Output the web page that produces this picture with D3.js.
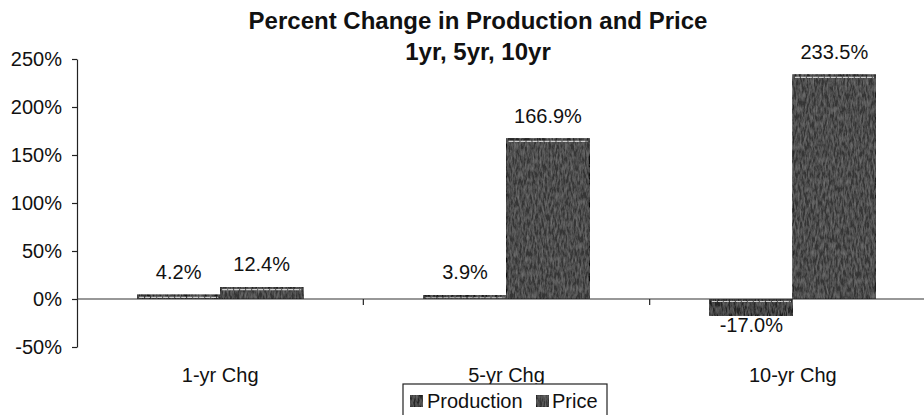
<!DOCTYPE html>
<html>
<head>
<meta charset="utf-8">
<script src="https://cdn.jsdelivr.net/npm/d3@7"></script>
<style>
  html, body { margin: 0; padding: 0; background: #fff; }
  svg { display: block; font-family: Arial, "Liberation Sans", sans-serif; }
</style>
</head>
<body>
<svg id="chart" width="924" height="415"></svg>
<script>
// Chart data
const categories = ["1-yr Chg", "5-yr Chg", "10-yr Chg"];
const seriesNames = ["Production", "Price"];
const production = [4.2, 3.9, -17.0];
const price = [12.4, 166.9, 233.5];
const yTicks = [-50, 0, 50, 100, 150, 200, 250];
const titleLines = ["Percent Change in Production and Price", "1yr, 5yr, 10yr"];

const seriesValues = { Production: production, Price: price };
const seriesFill = { Production: "#252525", Price: "#363636" };
const FONT = "Arial, 'Liberation Sans', sans-serif";
const pct = v => v.toFixed(1) + "%";

const svg = d3.select("#chart");
const W = 924;

// Grain texture for the bar fills (subtle speckle)
const defs = svg.append("defs");
const grain = defs.append("filter").attr("id", "grain")
  .attr("x", 0).attr("y", 0).attr("width", 1).attr("height", 1);
grain.append("feTurbulence").attr("type", "fractalNoise")
  .attr("baseFrequency", "0.55 0.14").attr("numOctaves", 3).attr("seed", 7).attr("result", "n");
grain.append("feColorMatrix").attr("in", "n").attr("type", "matrix")
  .attr("values", "0 0 0 0 0.5  0 0 0 0 0.5  0 0 0 0 0.5  0.5 0 0 0 -0.17")
  .attr("result", "spk");
grain.append("feComposite").attr("in", "spk").attr("in2", "SourceGraphic").attr("operator", "atop");

// Scales
const x0 = d3.scaleBand().domain(categories).range([77, 936]).paddingInner(0).paddingOuter(0);
const x1 = d3.scaleBand().domain(seriesNames).range([0, x0.bandwidth()])
  .paddingInner(0).paddingOuter(0.725);
const y = d3.scaleLinear().domain([-50, 250]).range([347, 59]);

// Title
svg.append("g").selectAll("text").data(titleLines).join("text")
  .attr("x", 478).attr("y", (d, i) => i === 0 ? 29 : 60)
  .attr("text-anchor", "middle")
  .attr("font-size", 24).attr("font-weight", "bold").attr("fill", "#111")
  .text(d => d);

// Y axis
const yAxis = svg.append("g").attr("transform", "translate(77,0)")
  .call(d3.axisLeft(y).tickValues(yTicks).tickSize(5).tickSizeOuter(0)
    .tickPadding(10).tickFormat(d => d + "%"));
yAxis.select(".domain").attr("stroke", "#222").attr("stroke-width", 1.2);
yAxis.selectAll(".tick line").attr("stroke", "#222").attr("stroke-width", 1.2);
yAxis.selectAll(".tick text").attr("font-size", 20).attr("fill", "#111")
  .attr("font-family", FONT);

// Bars
const barData = [];
categories.forEach((c, i) => {
  seriesNames.forEach(s => barData.push({ cat: c, series: s, value: seriesValues[s][i] }));
});

const bars = svg.append("g").selectAll("g").data(barData).join("g");
bars.append("rect")
  .attr("x", d => x0(d.cat) + x1(d.series))
  .attr("y", d => y(Math.max(0, d.value)))
  .attr("width", x1.bandwidth())
  .attr("height", d => Math.abs(y(d.value) - y(0)))
  .attr("fill", d => seriesFill[d.series])
  .attr("filter", "url(#grain)")
  .attr("stroke", "#111").attr("stroke-width", 1.2);
// light highlight line along the top edge of each bar
bars.append("line")
  .attr("x1", d => x0(d.cat) + x1(d.series) + 2)
  .attr("x2", d => x0(d.cat) + x1(d.series) + x1.bandwidth() - 2)
  .attr("y1", d => y(Math.max(0, d.value)) + 2.5)
  .attr("y2", d => y(Math.max(0, d.value)) + 2.5)
  .attr("stroke", "#d0d0d0").attr("stroke-width", 1.2)
  .attr("stroke-dasharray", "5,1");

// Zero line across the plot and category separators
svg.append("line").attr("x1", 77).attr("x2", W).attr("y1", y(0)).attr("y2", y(0))
  .attr("stroke", "#333").attr("stroke-width", 1.2);
svg.append("g").selectAll("line").data(categories.slice(1)).join("line")
  .attr("x1", d => x0(d)).attr("x2", d => x0(d))
  .attr("y1", y(0)).attr("y2", y(0) + 6)
  .attr("stroke", "#222").attr("stroke-width", 1.2);

// Value labels
svg.append("g").selectAll("text").data(barData).join("text")
  .attr("x", d => x0(d.cat) + x1(d.series) + x1.bandwidth() / 2)
  .attr("y", d => d.value >= 0 ? y(d.value) - 16 : y(d.value) + 17)
  .attr("text-anchor", "middle").attr("font-size", 20).attr("fill", "#111")
  .text(d => pct(d.value));

// Category labels
svg.append("g").selectAll("text").data(categories).join("text")
  .attr("x", d => x0(d) + x0.bandwidth() / 2).attr("y", 382)
  .attr("text-anchor", "middle").attr("font-size", 20).attr("fill", "#111")
  .text(d => d);

// Legend
const legend = svg.append("g");
legend.append("rect").attr("x", 403).attr("y", 384).attr("width", 204).attr("height", 40)
  .attr("fill", "#fff").attr("stroke", "#222").attr("stroke-width", 1.2);
const legendItems = [
  { name: "Production", sx: 410, tx: 427 },
  { name: "Price", sx: 536, tx: 552 }
];
legend.selectAll("rect.sw").data(legendItems).join("rect").attr("class", "sw")
  .attr("x", d => d.sx).attr("y", 395).attr("width", 13).attr("height", 12)
  .attr("fill", d => seriesFill[d.name]).attr("filter", "url(#grain)")
  .attr("stroke", "#111").attr("stroke-width", 1);
legend.selectAll("text").data(legendItems).join("text")
  .attr("x", d => d.tx).attr("y", 408)
  .attr("font-size", 20).attr("fill", "#111")
  .text(d => d.name);
</script>
</body>
</html>
